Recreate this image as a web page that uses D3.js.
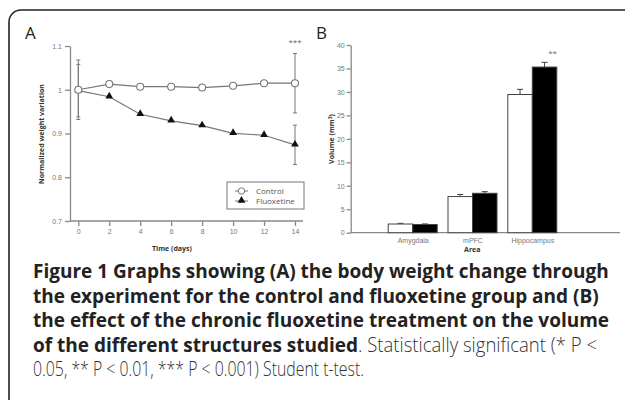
<html>
<head>
<style>
body { margin:0; background:#ffffff; }
svg { display:block; font-family:"Open Sans", sans-serif; }
.tick text { fill:#777777; font-size:7px; }
.tick line, .domain { stroke:#888888; stroke-width:1.3px; }
.title { font-size:7px; font-weight:bold; fill:#333333; }
.cap { fill:#222222; font-weight:bold; }
.capReg { fill:#333333; font-weight:300; }
</style>
<script src="https://cdn.jsdelivr.net/npm/d3@7"></script>
</head>
<body>
<svg width="625" height="400"></svg>
<script>

// panel A: body weight
var days = [0, 2, 4, 6, 8, 10, 12, 14];
var controlWeight = [1.0, 1.013, 1.007, 1.007, 1.005, 1.009, 1.015, 1.015];
var controlWeightErr = [0.068, 0, 0, 0, 0, 0, 0, 0.068];
var fluoxWeight = [0.998, 0.984, 0.944, 0.929, 0.918, 0.9005, 0.896, 0.874];
var fluoxWeightErr = [0.06, 0, 0, 0, 0, 0, 0, 0.045];
var weightTicks = [0.7, 0.8, 0.9, 1, 1.1];

// panel B: volumes
var areas = ["Amygdala", "mPFC", "Hippocampus"];
var controlVol = [1.85, 7.7, 29.45];
var controlVolErr = [0.15, 0.45, 1.1];
var fluoxVol = [1.75, 8.4, 35.3];
var fluoxVolErr = [0.12, 0.35, 1.0];
var volTicks = [0, 5, 10, 15, 20, 25, 30, 35, 40];

// caption lines: [bold part, regular part, right end of regular part]
var caption = [
	["Figure 1 Graphs showing (A) the body weight change through", "", 0],
	["the experiment for the control and fluoxetine group and (B)", "", 0],
	["the effect of the chronic fluoxetine treatment on the volume", "", 0],
	["of the different structures studied", ". Statistically significant (* P <", 597],
	["", "0.05, ** P < 0.01, *** P < 0.001) Student t-test.", 364]
];

var svg = d3.select("svg");

// frame
svg.append("rect").attr("x", 9).attr("y", 10).attr("width", 640).attr("height", 420)
	.attr("rx", 12).attr("fill", "none").attr("stroke", "#222222").attr("stroke-width", 1.6);

// ---------- A ----------
var xA = d3.scaleLinear().domain([0, 14]).range([78.3, 295]);
var yA = d3.scaleLinear().domain([0.7, 1.1]).range([221, 46]);

svg.append("text").text("A").attr("x", 25).attr("y", 39).style("font-size", "17px").attr("fill", "#222");

var gy = svg.append("g").attr("transform", "translate(70,0)")
	.call(d3.axisLeft(yA).tickValues(weightTicks).tickSize(5).tickSizeOuter(0).tickPadding(3).tickFormat(d3.format("")));
var gx = svg.append("g").attr("transform", "translate(0," + yA(0.7) + ")")
	.call(d3.axisBottom(xA).tickValues(days).tickSize(5).tickSizeOuter(0).tickPadding(3));
gx.select(".domain").remove();
svg.append("line").attr("x1", 70).attr("x2", xA(14) + 8).attr("y1", yA(0.7)).attr("y2", yA(0.7))
	.attr("stroke", "#888888").attr("stroke-width", 1.3);

svg.append("text").attr("class", "title").text("Time (days)")
	.attr("x", 172).attr("y", 251).attr("text-anchor", "middle");
svg.append("text").attr("class", "title").text("Normalized weight variation")
	.attr("transform", "translate(44,134)rotate(-90)").attr("text-anchor", "middle");

function errBars(mean, err) {
	var g = svg.append("g").attr("stroke", "#777777").attr("stroke-width", 1);
	days.forEach(function (d, i) {
		if (!err[i]) return;
		var cx = xA(d);
		g.append("line").attr("x1", cx).attr("x2", cx).attr("y1", yA(mean[i] + err[i])).attr("y2", yA(mean[i] - err[i]));
		[mean[i] + err[i], mean[i] - err[i]].forEach(function (v) {
			g.append("line").attr("x1", cx - 2).attr("x2", cx + 2).attr("y1", yA(v)).attr("y2", yA(v));
		});
	});
}
errBars(controlWeight, controlWeightErr);
errBars(fluoxWeight, fluoxWeightErr);

var line = d3.line().x(function (d) { return xA(d[0]); }).y(function (d) { return yA(d[1]); });
var ctrlPts = days.map(function (d, i) { return [d, controlWeight[i]]; });
var fluxPts = days.map(function (d, i) { return [d, fluoxWeight[i]]; });

svg.append("path").attr("d", line(fluxPts)).attr("fill", "none").attr("stroke", "#777777").attr("stroke-width", 1.2);
svg.append("path").attr("d", line(ctrlPts)).attr("fill", "none").attr("stroke", "#777777").attr("stroke-width", 1.2);

var tri = d3.symbol().type(d3.symbolTriangle).size(26);
svg.selectAll(".tri").data(fluxPts).enter().append("path").attr("class", "tri")
	.attr("d", tri).attr("transform", function (d) { return "translate(" + xA(d[0]) + "," + (yA(d[1]) - 0.5) + ")"; })
	.attr("fill", "#111111");
svg.selectAll(".circ").data(ctrlPts).enter().append("circle").attr("class", "circ")
	.attr("cx", function (d) { return xA(d[0]); }).attr("cy", function (d) { return yA(d[1]); })
	.attr("r", 3.5).attr("fill", "#ffffff").attr("stroke", "#777777").attr("stroke-width", 1.1);

svg.append("text").text("***").attr("x", xA(14)).attr("y", 45).attr("text-anchor", "middle")
	.style("font-size", "8px").attr("fill", "#666");

// legend
var lg = svg.append("g").attr("transform", "translate(227,182)");
lg.append("rect").attr("width", 77).attr("height", 27).attr("fill", "#fff").attr("stroke", "#777").attr("stroke-width", 1);
[["Control", 9], ["Fluoxetine", 19]].forEach(function (e, i) {
	lg.append("line").attr("x1", 8).attr("x2", 21).attr("y1", e[1]).attr("y2", e[1]).attr("stroke", "#777").attr("stroke-width", 1);
	if (i === 0) {
		lg.append("circle").attr("cx", 14.5).attr("cy", e[1]).attr("r", 3.2).attr("fill", "#fff").attr("stroke", "#777").attr("stroke-width", 1);
	} else {
		lg.append("path").attr("d", tri).attr("transform", "translate(14.5," + (e[1] - 0.5) + ")").attr("fill", "#111");
	}
	lg.append("text").text(e[0]).attr("x", 29).attr("y", e[1] + 2.8).style("font-size", "8px").attr("fill", "#555");
});

// ---------- B ----------
var xB = d3.scalePoint().domain(areas).range([412.7, 532.3]);
var yB = d3.scaleLinear().domain([0, 40]).range([232.7, 45]);
var bw = 24.5;

svg.append("text").text("B").attr("x", 316).attr("y", 39).style("font-size", "17px").attr("fill", "#222");

svg.append("g").attr("transform", "translate(350.7,0)")
	.call(d3.axisLeft(yB).tickValues(volTicks).tickSize(4).tickSizeOuter(0).tickPadding(2));
svg.append("line").attr("x1", 350.7).attr("x2", 620).attr("y1", yB(0)).attr("y2", yB(0))
	.attr("stroke", "#888888").attr("stroke-width", 1.3);
svg.append("g").attr("transform", "translate(0," + yB(0) + ")")
	.call(d3.axisBottom(xB).tickSize(0).tickPadding(5))
	.call(function (g) { g.select(".domain").remove(); });

svg.append("text").attr("class", "title").text("Area").attr("x", 472.3).attr("y", 252).attr("text-anchor", "middle");
var vt = svg.append("text").attr("class", "title").attr("transform", "translate(334,139)rotate(-90)").attr("text-anchor", "middle");
vt.append("tspan").text("Volume (mm");
vt.append("tspan").text("3").attr("dy", -2).style("font-size", "5px");
vt.append("tspan").text(")").attr("dy", 2);

function bars(vals, errs, dx, fill) {
	var g = svg.append("g");
	areas.forEach(function (a, i) {
		var x0 = xB(a) + dx;
		g.append("line").attr("x1", x0 + bw / 2).attr("x2", x0 + bw / 2).attr("y1", yB(vals[i])).attr("y2", yB(vals[i] + errs[i]))
			.attr("stroke", "#444").attr("stroke-width", 1);
		g.append("line").attr("x1", x0 + bw / 2 - 3).attr("x2", x0 + bw / 2 + 3).attr("y1", yB(vals[i] + errs[i])).attr("y2", yB(vals[i] + errs[i]))
			.attr("stroke", "#444").attr("stroke-width", 1);
		g.append("rect").attr("x", x0).attr("y", yB(vals[i])).attr("width", bw).attr("height", yB(0) - yB(vals[i]))
			.attr("fill", fill).attr("stroke", "#444").attr("stroke-width", 1);
	});
}
bars(controlVol, controlVolErr, -bw, "#ffffff");
bars(fluoxVol, fluoxVolErr, 0, "#000000");

svg.append("text").text("**").attr("x", xB("Hippocampus") + bw / 2 + 8).attr("y", 56).attr("text-anchor", "middle")
	.style("font-size", "8px").attr("fill", "#666");

// ---------- caption ----------
// fit the bold size so the first line runs from x=33 to x=609
var probe = svg.append("text").attr("class", "cap").style("font-size", "20px").text(caption[0][0]);
var capSize = 20 * 576 / probe.node().getComputedTextLength();
probe.remove();

caption.forEach(function (c, i) {
	var y = 278 + i * 24.5;
	var end = 33;
	if (c[0]) {
		var b = svg.append("text").attr("class", "cap").attr("x", 33).attr("y", y).style("font-size", capSize + "px").text(c[0]);
		end = 33 + b.node().getComputedTextLength();
	}
	if (c[1]) {
		svg.append("text").attr("class", "capReg").attr("x", end).attr("y", y).style("font-size", (capSize + 0.5) + "px")
			.attr("textLength", c[2] - end).attr("lengthAdjust", "spacingAndGlyphs").text(c[1]);
	}
});
</script>
</body>
</html>
